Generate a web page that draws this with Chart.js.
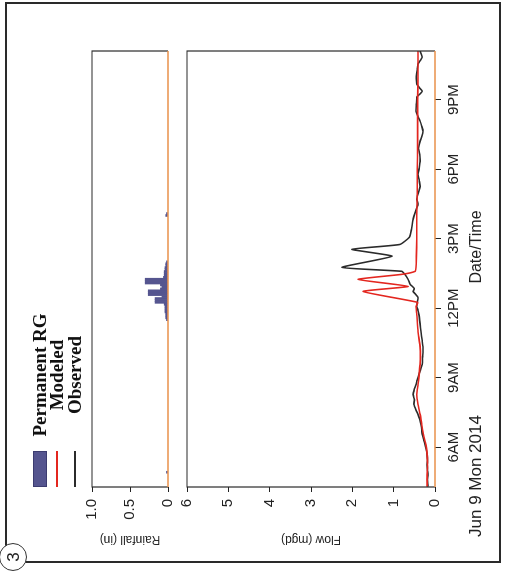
<!DOCTYPE html>
<html>
<head>
<meta charset="utf-8">
<script src="https://cdn.jsdelivr.net/npm/chart.js@4"></script>
<style>
  html, body { margin:0; padding:0; background:#fff; width:508px; height:579px; overflow:hidden; }
  #rot { position:absolute; left:0; top:0; width:579px; height:508px; transform-origin:0 0;
         transform:translate(0px,579px) rotate(-90deg); }
  #rot canvas { position:absolute; left:0; top:0; }
  .frame { position:absolute; left:16px; top:5px; width:561px; height:496px; border:2px solid #2a2a2a; box-sizing:border-box; }
  .badge { position:absolute; left:8px; top:-1px; width:28px; height:28px; border:1.5px solid #333; border-radius:50%;
           background:#fff; font:17px 'Liberation Sans', Arial, sans-serif; color:#222; text-align:center; line-height:28px; box-sizing:border-box; }
  .leg { position:absolute; left:0; top:0; font:bold 19px 'Liberation Serif', 'Times New Roman', serif; color:#111; }
  .leg .row { position:absolute; left:92px; height:20px; width:200px; }
  .leg .sym { position:absolute; left:0; width:36px; }
  .leg .txt { position:absolute; left:40px; width:144px; text-align:center; line-height:20px; top:0; white-space:nowrap; }
  .xt { position:absolute; font:16px 'Liberation Sans', Arial, sans-serif; color:#222; white-space:nowrap; line-height:18px; }
</style>
</head>
<body>
<div id="rot">
  <div class="frame"></div>
  <canvas id="rain" width="579" height="508"></canvas>
  <canvas id="flow" width="579" height="508"></canvas>
  <div class="leg" id="legend"></div>
  <div class="xt" id="xtitle" style="left:282px; top:467px; width:100px; text-align:center;">Date/Time</div>
  <div class="xt" id="xdate" style="left:42px; top:467px; font-size:17px;">Jun 9 Mon 2014</div>
  <div class="badge">3</div>
</div>
<script>
// ---- data (hours of day, Jun 9 2014) ----
const timeMin = 4.28;
const timeMax = 23.1;
const hourTicks = [6, 9, 12, 15, 18, 21];
const hourLabels = ['6AM', '9AM', '12PM', '3PM', '6PM', '9PM'];
const flowTicks = [0, 1, 2, 3, 4, 5, 6];
const flowTickLabels = ['0', '1', '2', '3', '4', '5', '6'];
const rainTicks = [0, 0.5, 1.0];
const rainTickLabels = ['0', '0.5', '1.0'];

const obsHours = [4.29, 4.6, 4.81, 5.0, 5.24, 5.45, 5.68, 5.9, 6.11, 6.3, 6.54, 6.75, 6.97, 7.2, 7.41, 7.6, 7.84, 8.05, 8.27, 8.5,
  8.7, 8.85, 9.0, 9.3, 9.57, 9.9, 10.3, 10.6, 10.99, 11.3, 11.73, 11.9, 12.07, 12.25, 12.46, 12.6, 12.72, 12.85, 13.03, 13.24,
  13.46, 13.59, 13.76, 14.24, 14.54, 14.75, 15.06, 15.4, 15.84, 16.14, 16.48, 16.7, 17.0, 17.26, 17.5, 17.78, 18.05, 18.34, 18.65, 18.9,
  19.21, 19.4, 19.64, 19.85, 20.07, 20.3, 20.5, 20.8, 21.11, 21.25, 21.37, 21.5, 21.67, 22.0, 22.3, 22.54, 22.7, 22.84, 23.1];
const obsFlow = [0.17, 0.18, 0.17, 0.18, 0.19, 0.18, 0.19, 0.21, 0.24, 0.27, 0.31, 0.32, 0.34, 0.37, 0.41, 0.46, 0.51, 0.50, 0.53, 0.50,
  0.46, 0.44, 0.41, 0.36, 0.31, 0.30, 0.29, 0.31, 0.34, 0.36, 0.39, 0.41, 0.44, 0.43, 0.41, 0.47, 0.53, 0.50, 0.60, 0.65,
  0.73, 0.80, 2.25, 1.04, 2.01, 0.85, 0.62, 0.57, 0.53, 0.48, 0.41, 0.44, 0.40, 0.36, 0.38, 0.41, 0.38, 0.36, 0.37, 0.40,
  0.36, 0.32, 0.29, 0.32, 0.36, 0.42, 0.46, 0.45, 0.44, 0.36, 0.31, 0.37, 0.44, 0.45, 0.43, 0.41, 0.35, 0.31, 0.36];

const modHours = [4.29, 4.8, 5.24, 5.68, 6.11, 6.54, 6.97, 7.41, 7.84, 8.27, 8.7, 9.0, 9.57, 10.3, 10.99, 11.73, 12.07, 12.25,
  12.72, 12.94, 13.24, 13.46, 13.59, 13.76, 14.24, 15.0, 16.0, 17.0, 18.0, 19.0, 20.0, 21.0, 22.0, 23.1];
const modFlow = [0.19, 0.19, 0.18, 0.19, 0.22, 0.28, 0.32, 0.36, 0.41, 0.44, 0.41, 0.39, 0.36, 0.36, 0.41, 0.44, 0.46, 0.42,
  1.74, 0.65, 1.86, 0.80, 0.48, 0.46, 0.45, 0.44, 0.44, 0.43, 0.43, 0.42, 0.42, 0.42, 0.41, 0.41];

const rainHours = [4.917, 11.5, 11.583, 11.667, 11.75, 11.833, 11.917, 12.0, 12.083, 12.167, 12.25, 12.333, 12.417, 12.5,
  12.583, 12.667, 12.75, 12.833, 12.917, 13.0, 13.083, 13.167, 13.25, 13.333, 13.417, 13.5, 13.583, 13.667, 13.75,
  13.833, 13.917, 14.0, 16.0, 16.083];
const rainDepth = [0.02, 0.02, 0.03, 0.03, 0.03, 0.04, 0.04, 0.04, 0.04, 0.05, 0.17, 0.17, 0.17, 0.08,
  0.26, 0.26, 0.26, 0.10, 0.08, 0.10, 0.30, 0.30, 0.30, 0.06, 0.05, 0.05, 0.05, 0.04, 0.04,
  0.03, 0.03, 0.02, 0.03, 0.02];

// ---- styling ----
const sans = "'Liberation Sans', Arial, sans-serif";
const ink = '#222';
const zeroLine = '#e8904a';

const framePlugin = {
  id: 'frame',
  afterDatasetsDraw(chart) {
    const { ctx, chartArea: a } = chart;
    ctx.save();
    ctx.lineWidth = 1.2;
    ctx.strokeStyle = '#2a2a2a';
    ctx.beginPath();
    ctx.moveTo(a.left, a.bottom);
    ctx.lineTo(a.left, a.top);
    ctx.lineTo(a.right, a.top);
    ctx.lineTo(a.right, a.bottom);
    ctx.stroke();
    ctx.strokeStyle = zeroLine;
    ctx.lineWidth = 1.5;
    ctx.beginPath();
    ctx.moveTo(a.left, a.bottom);
    ctx.lineTo(a.right, a.bottom);
    ctx.stroke();
    ctx.restore();
  }
};

function yAxis(min, max, ticks, labels, title) {
  return {
    min, max,
    afterFit(s) { s.width = 64; },
    afterBuildTicks(s) { s.ticks = ticks.map(v => ({ value: v })); },
    ticks: { callback: (v, i) => labels[i], font: { family: sans, size: 15 }, color: ink, padding: 7 },
    grid: { drawOnChartArea: false, drawTicks: true, tickLength: 5, color: ink, lineWidth: 1 },
    border: { display: false },
    title: { display: true, text: title, font: { family: sans, size: 12 }, color: ink, padding: { top: 4, bottom: 4 } }
  };
}

const rainChart = new Chart(document.getElementById('rain'), {
  type: 'bar',
  data: {
    datasets: [{
      label: 'Permanent RG',
      data: rainHours.map((h, i) => ({ x: h, y: rainDepth[i] })),
      backgroundColor: '#55558f',
      borderColor: '#3c3c70',
      borderWidth: 0,
      barPercentage: 1,
      categoryPercentage: 1
    }]
  },
  options: {
    responsive: false,
    animation: false,
    layout: { padding: { left: 28, right: 51, top: 92, bottom: 340 } },
    plugins: { legend: { display: false }, tooltip: { enabled: false } },
    scales: {
      x: { type: 'linear', min: timeMin, max: timeMax, display: false, offset: false },
      y: yAxis(0, 1, rainTicks, rainTickLabels, 'Rainfall (in)')
    }
  },
  plugins: [framePlugin]
});

const flowChart = new Chart(document.getElementById('flow'), {
  type: 'line',
  data: {
    datasets: [
      {
        label: 'Modeled',
        data: modHours.map((h, i) => ({ x: h, y: modFlow[i] })),
        borderColor: '#e3261f',
        borderWidth: 1.6,
        pointRadius: 0,
        tension: 0.15,
        fill: false
      },
      {
        label: 'Observed',
        data: obsHours.map((h, i) => ({ x: h, y: obsFlow[i] })),
        borderColor: '#2b2b2b',
        borderWidth: 1.6,
        pointRadius: 0,
        tension: 0.15,
        fill: false
      }
    ]
  },
  options: {
    responsive: false,
    animation: false,
    layout: { padding: { left: 28, right: 51, top: 187, bottom: 43 } },
    plugins: { legend: { display: false }, tooltip: { enabled: false } },
    scales: {
      x: {
        type: 'linear', min: timeMin, max: timeMax,
        afterFit(s) { s.height = 30; },
        afterBuildTicks(s) { s.ticks = hourTicks.map(v => ({ value: v })); },
        ticks: { callback: (v, i) => hourLabels[i], font: { family: sans, size: 15 }, color: ink, padding: 4,
                 maxRotation: 0, minRotation: 0, autoSkip: false },
        grid: { drawOnChartArea: false, drawTicks: true, tickLength: 6, color: ink },
        border: { display: false }
      },
      y: yAxis(0, 6, flowTicks, flowTickLabels, 'Flow (mgd)')
    }
  },
  plugins: [framePlugin]
});

// ---- legend built from the datasets ----
const legendItems = [
  { ds: rainChart.data.datasets[0], kind: 'box', v: 30 },
  { ds: flowChart.data.datasets[0], kind: 'line', v: 47 },
  { ds: flowChart.data.datasets[1], kind: 'line', v: 65 }
];
const leg = document.getElementById('legend');
legendItems.forEach(it => {
  const row = document.createElement('div');
  row.className = 'row';
  row.style.top = it.v + 'px';
  const sym = document.createElement('div');
  sym.className = 'sym';
  if (it.kind === 'box') {
    sym.style.top = '3px'; sym.style.height = '14px';
    sym.style.background = it.ds.backgroundColor;
    sym.style.border = '1px solid ' + it.ds.borderColor;
    sym.style.boxSizing = 'border-box';
  } else {
    sym.style.top = '9px'; sym.style.height = '2px';
    sym.style.background = it.ds.borderColor;
  }
  const txt = document.createElement('div');
  txt.className = 'txt';
  txt.textContent = it.ds.label;
  row.appendChild(sym);
  row.appendChild(txt);
  leg.appendChild(row);
});
</script>
</body>
</html>
